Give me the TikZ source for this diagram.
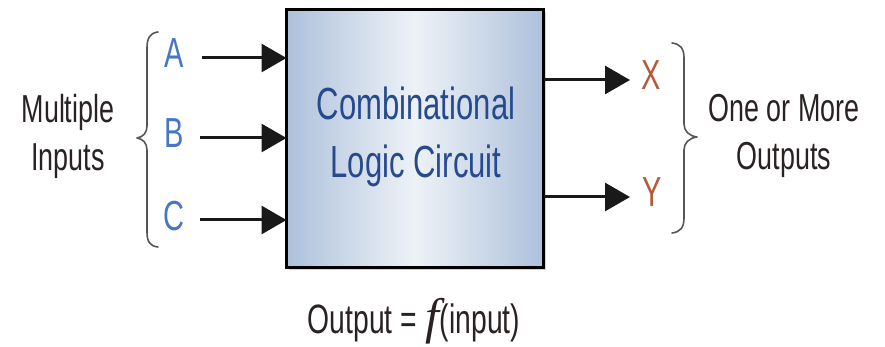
\documentclass[tikz,border=0pt]{standalone}
\usepackage{fontspec}
\usetikzlibrary{arrows.meta,shadows,calc}
\newfontfamily\narrow[FakeStretch=0.69]{Liberation Sans}
\newfontfamily\fserif{Liberation Serif}
\definecolor{boxedge}{HTML}{ADC1DB}
\definecolor{boxmid}{HTML}{EEF2F7}
\definecolor{titleblue}{HTML}{274A8E}
\definecolor{inblue}{HTML}{4677C4}
\definecolor{outred}{HTML}{B45A3C}
\definecolor{labdark}{HTML}{2A2222}
\definecolor{bracegray}{HTML}{555555}
\tikzset{
  blockbox/.style={draw=black, line width=3pt, inner sep=0pt, outer sep=0pt,
    minimum width=257pt, minimum height=257pt,
    left color=boxedge, right color=boxedge, middle color=boxmid,
    drop shadow={shadow xshift=2.5pt, shadow yshift=-2.5pt, opacity=0.35}},
  title/.style={font=\narrow\fontsize{45}{58}\selectfont, text=titleblue, align=center},
  sidelabel/.style={font=\narrow\fontsize{39}{48}\selectfont, text=labdark, align=center},
  inletter/.style={font=\narrow\fontsize{42}{48}\selectfont, text=inblue, anchor=base, inner sep=0pt},
  outletter/.style={font=\narrow\fontsize{42}{48}\selectfont, text=outred, anchor=base, inner sep=0pt},
  arr/.style={draw=black!90, line width=3pt, -{Triangle[length=25pt,width=28pt]}},
  bracepath/.style={draw=bracegray, line width=1.6pt, line cap=round, line join=round}
}
\begin{document}
\begin{tikzpicture}[x=1pt,y=-1pt]
\useasboundingbox (0,0) rectangle (885,347);

% central block
\node[blockbox] (clc) at (415,138.5) {};
\node[title] (clctext) at (416,137) {Combinational\\Logic Circuit};

% inputs
\node[inletter] (A) at (174,68) {A};
\node[inletter] (B) at (174,148) {B};
\node[inletter] (C) at (174,231) {C};
\coordinate (a0) at (202,58);
\coordinate (b0) at (200,138);
\coordinate (c0) at (200,220);
\draw[arr] (a0) -- (a0 -| clc.west);
\draw[arr] (b0) -- (b0 -| clc.west);
\draw[arr] (c0) -- (c0 -| clc.west);

% outputs
\coordinate (x1) at (630,80);
\coordinate (y1) at (630,197);
\draw[arr] (x1 -| clc.east) -- (x1);
\draw[arr] (y1 -| clc.east) -- (y1);
\node[outletter] (X) at (651,90) {X};
\node[outletter] (Y) at (652,207) {Y};

% left brace
\path[bracepath] (158,32) .. controls (150,33) and (147,38) .. (147,48)
  -- (147,126) .. controls (147,133) and (143,137) .. (137,138)
  .. controls (143,139) and (147,143) .. (147,150)
  -- (147,232) .. controls (147,242) and (150,246) .. (158,247);

% right brace
\path[bracepath] (672,43) .. controls (680,44) and (684,48) .. (684,58)
  -- (684,124) .. controls (684,131) and (689,136) .. (697,137)
  .. controls (689,138) and (684,143) .. (684,150)
  -- (684,218) .. controls (684,228) and (680,232) .. (672,233);

% side labels
\node[sidelabel] (inlab) at (68,136) {Multiple\\Inputs};
\node[sidelabel] (outlab) at (784,136) {One or More\\Outputs};

% transfer relation
\node[font=\narrow\fontsize{41}{48}\selectfont, text=labdark, anchor=base, inner sep=0pt] (rel) at (414,333)
  {Output = {\fserif\itshape\fontsize{50}{56}\selectfont f}\kern1pt(input)};
\end{tikzpicture}
\end{document}
